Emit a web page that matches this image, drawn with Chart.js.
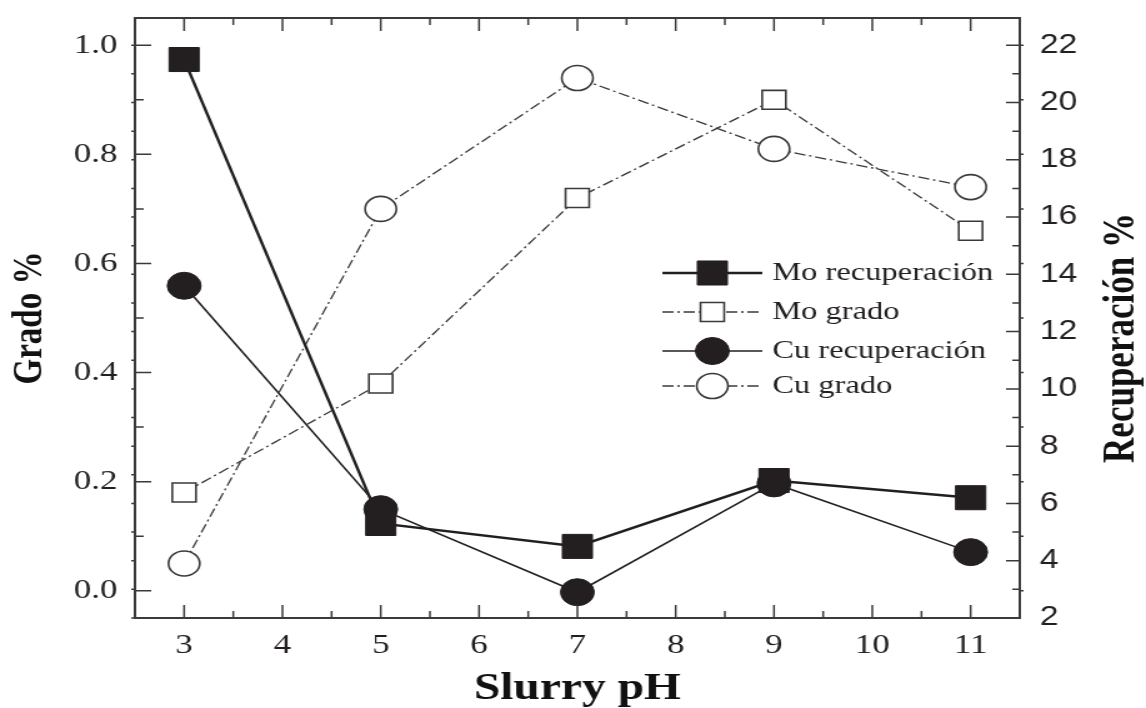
<!DOCTYPE html>
<html>
<head>
<meta charset="utf-8">
<script src="https://cdn.jsdelivr.net/npm/chart.js@4.4.0/dist/chart.umd.min.js"></script>
<style>
    html, body { margin: 0; padding: 0; background: #fff; overflow: hidden; }
    #chart { display: block; }
</style>
</head>
<body>
<!-- the reference picture is stretched sideways, so the canvas is drawn narrower and widened by CSS -->
<canvas id="chart" width="917" height="708" style="width:1146px;height:708px"></canvas>
<script>
const pH = [3, 5, 7, 9, 11];

const moRecuperacion = [21.5, 5.3, 4.5, 6.8, 6.2];
const moGrado = [0.18, 0.38, 0.72, 0.90, 0.66];
const cuRecuperacion = [13.6, 5.8, 2.9, 6.7, 4.3];
const cuGrado = [0.05, 0.70, 0.94, 0.81, 0.74];

const xTicks = [3, 4, 5, 6, 7, 8, 9, 10, 11];
const gradoTicks = [0, 0.2, 0.4, 0.6, 0.8, 1.0];
const recTicks = [2, 4, 6, 8, 10, 12, 14, 16, 18, 20, 22];

const ink = "#231f20";
const axisInk = "#3a3a3a";
const serif = "'Liberation Serif', 'Times New Roman', serif";
const sans = "'Liberation Sans', Arial, sans-serif";
const dashDot = [9, 3, 2, 3];

function points(ys) {
    return pH.map((x, i) => ({ x: x, y: ys[i] }));
}

const datasets = [
    {
        label: "Mo recuperación",
        data: points(moRecuperacion),
        yAxisID: "y1",
        borderColor: ink,
        borderWidth: 2.4,
        pointStyle: "rect",
        pointRadius: 17,
        pointBackgroundColor: ink,
        pointBorderColor: ink,
        pointBorderWidth: 1
    },
    {
        label: "Mo grado",
        data: points(moGrado),
        yAxisID: "y",
        borderColor: axisInk,
        borderWidth: 1.3,
        borderDash: dashDot,
        pointStyle: "rect",
        pointRadius: 13.4,
        pointBackgroundColor: "#fff",
        pointBorderColor: axisInk,
        pointBorderWidth: 1.6
    },
    {
        label: "Cu recuperación",
        data: points(cuRecuperacion),
        yAxisID: "y1",
        borderColor: ink,
        borderWidth: 1.6,
        pointStyle: "circle",
        pointRadius: 13.5,
        pointBackgroundColor: ink,
        pointBorderColor: ink,
        pointBorderWidth: 1
    },
    {
        label: "Cu grado",
        data: points(cuGrado),
        yAxisID: "y",
        borderColor: axisInk,
        borderWidth: 1.3,
        borderDash: dashDot,
        pointStyle: "circle",
        pointRadius: 12.5,
        pointBackgroundColor: "#fff",
        pointBorderColor: axisInk,
        pointBorderWidth: 1.6
    }
];

// frame + inward ticks on all four sides
const frameTicks = {
    id: "frameTicks",
    afterDatasetsDraw(chart) {
        const { ctx, chartArea: a, scales } = chart;
        ctx.save();
        ctx.strokeStyle = axisInk;
        ctx.lineWidth = 1.5;
        ctx.beginPath();
        for (let v = 2.5; v <= 11.5001; v += 0.5) {
            const px = scales.x.getPixelForValue(v);
            const len = Number.isInteger(v) ? 13 : 7;
            ctx.moveTo(px, a.bottom); ctx.lineTo(px, a.bottom - len);
            ctx.moveTo(px, a.top); ctx.lineTo(px, a.top + len);
        }
        for (let i = 0; i <= 10; i++) {
            const py = scales.y.getPixelForValue(i / 10);
            const len = i % 2 === 0 ? 13 : 7;
            ctx.moveTo(a.left, py); ctx.lineTo(a.left + len, py);
            ctx.moveTo(a.right, py); ctx.lineTo(a.right + 3, py);
        }
        for (let v = 2; v <= 22; v++) {
            const py = scales.y1.getPixelForValue(v);
            const len = v % 2 === 0 ? 11 : 6;
            ctx.moveTo(a.right, py); ctx.lineTo(a.right - len, py);
            ctx.moveTo(a.left, py); ctx.lineTo(a.left - 3, py);
        }
        ctx.stroke();
        ctx.lineWidth = 2;
        ctx.strokeRect(a.left, a.top, a.width, a.height);
        ctx.restore();
    }
};

// legend sits inside the plot, to the right; right axis title reads bottom-to-top
const insideLegend = {
    id: "insideLegend",
    afterDraw(chart) {
        const { ctx, chartArea: a } = chart;
        const rows = [255, 294, 333, 368];
        const x0 = a.left + 422, x1 = a.left + 502, xm = a.left + 462, xt = a.left + 510;
        ctx.save();
        chart.data.datasets.forEach((ds, i) => {
            const y = a.top + rows[i];
            ctx.strokeStyle = ds.borderColor;
            ctx.lineWidth = ds.borderWidth;
            ctx.setLineDash(ds.borderDash || []);
            ctx.beginPath();
            ctx.moveTo(x0, y); ctx.lineTo(x1, y);
            ctx.stroke();
            ctx.setLineDash([]);
            ctx.fillStyle = ds.pointBackgroundColor;
            ctx.strokeStyle = ds.pointBorderColor;
            ctx.lineWidth = ds.pointBorderWidth;
            Chart.helpers.drawPoint(ctx, {
                pointStyle: ds.pointStyle,
                radius: ds.pointRadius,
                borderWidth: ds.pointBorderWidth,
                rotation: 0
            }, xm, y);
            ctx.fillStyle = ink;
            ctx.font = "26px " + serif;
            ctx.textAlign = "left";
            ctx.textBaseline = "middle";
            ctx.fillText(ds.label, xt, y);
        });

        ctx.translate(chart.width - 19.5, a.top + 320);
        ctx.rotate(-Math.PI / 2);
        ctx.fillStyle = "#111";
        ctx.font = "bold 35px " + serif;
        ctx.textAlign = "center";
        ctx.textBaseline = "middle";
        ctx.fillText("Recuperación %", 0, 0);
        ctx.restore();
    }
};

function noEdgePadding(s) {
    s.paddingTop = 0;
    s.paddingBottom = 0;
}

const chart = new Chart(document.getElementById("chart"), {
    type: "line",
    data: { datasets: datasets },
    options: {
        responsive: false,
        animation: false,
        layout: { padding: { top: 15, left: 0, right: 0, bottom: 0 } },
        plugins: {
            legend: { display: false },
            tooltip: { enabled: false }
        },
        elements: { line: { tension: 0 } },
        scales: {
            x: {
                type: "linear",
                min: 2.5,
                max: 11.5,
                grid: { display: false, drawTicks: false },
                border: { display: false },
                afterBuildTicks: (s) => { s.ticks = xTicks.map(v => ({ value: v })); },
                afterFit: (s) => { s.height = 90; },
                ticks: {
                    padding: 11,
                    color: ink,
                    font: { family: serif, size: 28 }
                },
                title: {
                    display: true,
                    text: "Slurry pH",
                    color: "#111",
                    padding: 0,
                    font: { family: serif, size: 38, weight: "bold", lineHeight: 1 }
                }
            },
            y: {
                position: "left",
                min: -0.05,
                max: 1.05,
                grid: { display: false, drawTicks: false },
                border: { display: false },
                afterBuildTicks: (s) => { s.ticks = gradoTicks.map(v => ({ value: v })); },
                afterFit: (s) => { s.width = 108; noEdgePadding(s); },
                ticks: {
                    padding: 14,
                    color: ink,
                    font: { family: serif, size: 28 },
                    callback: (v) => v.toFixed(1)
                },
                title: {
                    display: true,
                    text: "Grado %",
                    color: "#111",
                    padding: { top: 7.5, bottom: 0 },
                    font: { family: serif, size: 33, weight: "bold", lineHeight: 1 }
                }
            },
            y1: {
                position: "right",
                min: 2,
                max: 22.95,
                grid: { display: false, drawTicks: false },
                border: { display: false },
                afterBuildTicks: (s) => { s.ticks = recTicks.map(v => ({ value: v })); },
                afterFit: (s) => { s.width = 101; noEdgePadding(s); },
                ticks: {
                    padding: 16,
                    color: ink,
                    font: { family: sans, size: 27 }
                },
                title: { display: false }
            }
        }
    },
    plugins: [frameTicks, insideLegend]
});
</script>
</body>
</html>
